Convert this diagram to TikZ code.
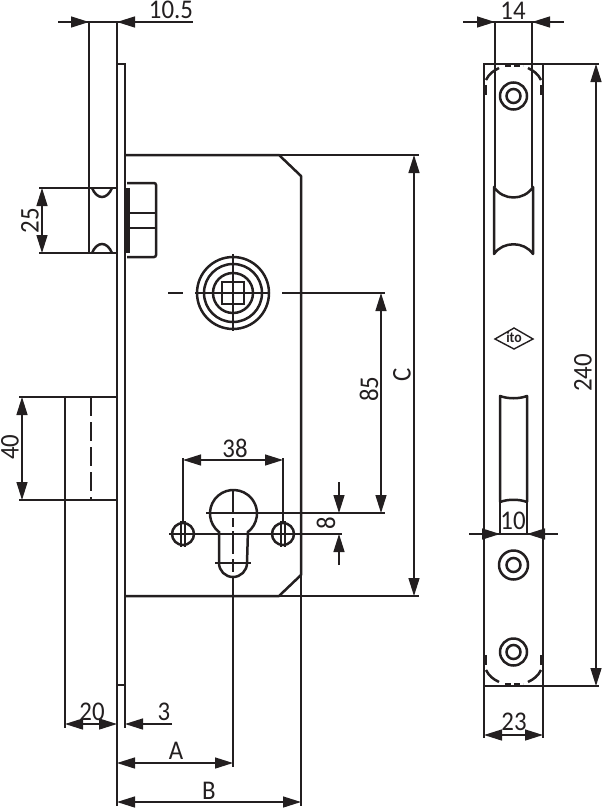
\documentclass[tikz,border=0pt]{standalone}
\usepackage{fontspec}
\setmainfont{Carlito}[FakeStretch=0.92]
\usetikzlibrary{arrows.meta}
\definecolor{myInk}{RGB}{35,31,32}

\begin{document}
\begin{tikzpicture}[%
    x=1pt,y=-1pt,
    every node/.style={text=myInk},
    bold/.style={myInk,line width=2.5pt},
    fine/.style={myInk,line width=1.4pt},
    both/.style={fine,{Triangle[length=18pt,width=11pt]}-{Triangle[length=18pt,width=11pt]}},
    tipin/.style={fine,-{Triangle[length=18pt,width=11pt]}},
    dimlabel/.style={font=\fontsize{27}{27}\selectfont,inner sep=0pt},
]
\useasboundingbox (0,0) rectangle (602,808);

% faceplate and case, side view
\draw[bold] (117,685) -- (117,64) -- (125,64) -- (125,685) -- cycle;
\draw[bold,line join=round] (125,155) -- (279,155) -- (301,176) -- (301,575) -- (279,596) -- (125,596);
\draw[fine] (117,22) -- (117,64);
\draw[fine] (117,685) -- (117,806);
\draw[fine] (125,685) -- (125,728);
\draw[fine] (301,575) -- (301,806);

% latch
\draw[bold] (89,22) -- (89,253);
\draw[bold] (89,188) -- (117,188);
\draw[bold] (89,253) -- (117,253);
\draw[bold] (92,188) .. controls (97,200) and (107,200) .. (112,188);
\draw[bold] (92,253) .. controls (97,241) and (107,241) .. (112,253);
\draw[bold,rounded corners=2pt] (127,183) -- (156,183) -- (156,257) -- (127,257);
\draw[fine,line width=1.8pt] (127,213) -- (156,213);
\draw[fine,line width=1.8pt] (127,228) -- (156,228);
\draw[line width=3.2pt,myInk] (128,188) -- (128,253);

% bolt
\draw[bold] (117,397) -- (65,397) -- (65,500) -- (117,500);
\draw[bold,dash pattern=on 19pt off 6pt] (91,397) -- (91,500);
\draw[fine] (65,500) -- (65,728);

% follower
\foreach \r in {36,29,20}{
    \draw[bold] (233,293) circle (\r);
}
\draw[bold] (222,282) rectangle (244,304);
\draw[fine] (233,254) -- (233,331);
\draw[fine] (195,293) -- (270,293);
\draw[fine,line width=1.8pt] (168,293) -- (183,293);
\draw[fine] (282,293) -- (385,293);

% cylinder hole
\draw[bold] (219,532) arc[start angle=128,end angle=412,radius=23.5] -- (247,563)
    arc[start angle=0,end angle=180,radius=14] -- cycle;
\draw[fine] (215,563) -- (251,563);
\draw[fine] (206,513) -- (385,513);
\draw[fine] (169,534) -- (342,534);
\draw[fine] (233,490) -- (233,513);
\draw[fine,line width=1.8pt] (233,518) -- (233,527);
\draw[fine,line width=1.8pt] (233,531) -- (233,554);
\draw[fine,line width=1.8pt] (233,559) -- (233,572);
\draw[fine] (233,577) -- (233,767);

% screw holes
\foreach \x in {183,283}{
    \draw[bold] (\x,534) circle (11);
    \draw[fine] (\x-2,521) -- (\x-2,547);
    \draw[fine] (\x+2,521) -- (\x+2,547);
}

% extension lines of the side view
\draw[fine] (279,155) -- (419,155);
\draw[fine] (279,596) -- (419,596);
\draw[fine] (39,188) -- (89,188);
\draw[fine] (39,253) -- (89,253);
\draw[fine] (19,397) -- (65,397);
\draw[fine] (19,500) -- (65,500);
\draw[fine] (183,458) -- (183,523);
\draw[fine] (283,458) -- (283,523);

% dimensions of the side view
\draw[fine] (58,22) -- (193,22);
\draw[tipin] (72,22) -- (89,22);
\draw[tipin] (134,22) -- (117,22);
\node[dimlabel] (lblTenFive) at (171,10) {10.5};
\draw[both] (42,188) -- (42,253);
\node[dimlabel,rotate=90] (lblLatch) at (30,221) {25};
\draw[both] (22,397) -- (22,500);
\node[dimlabel,rotate=90] (lblBolt) at (10,447) {40};
\draw[both] (183,460) -- (283,460);
\node[dimlabel] (lblHoles) at (235,448) {38};
\draw[both] (414,155) -- (414,596);
\node[dimlabel,rotate=90] (lblC) at (402,375) {C};
\draw[both] (381,293) -- (381,513);
\node[dimlabel,rotate=90] (lblCentres) at (369,389) {85};
\draw[tipin] (339,482) -- (339,513);
\draw[tipin] (339,565) -- (339,534);
\node[dimlabel,rotate=90] (lblOffset) at (326,523) {8};
\draw[both] (65,724) -- (117,724);
\node[dimlabel] (lblTwenty) at (92,712) {20};
\draw[tipin] (172,724) -- (125,724);
\node[dimlabel] (lblThree) at (164,712) {3};
\draw[both] (117,763) -- (233,763);
\node[dimlabel] (lblA) at (176,751) {A};
\draw[both] (117,802) -- (301,802);
\node[dimlabel] (lblB) at (209,791) {B};

% faceplate, front view
\draw[bold] (484,64) rectangle (543,686);
\draw[bold] (484,64) -- (543,64);
\draw[bold] (484,686) -- (543,686);
\foreach \y/\s in {64/1,686/-1}{
    \draw[bold] (486,\y+\s*16) .. controls (489,\y+\s*10) and (493,\y+\s*7) .. (499,\y+\s*4);
    \draw[bold] (541,\y+\s*16) .. controls (538,\y+\s*10) and (534,\y+\s*7) .. (528,\y+\s*4);
    \draw[fine,dash pattern=on 6pt off 3pt] (505,\y+\s*2) -- (523,\y+\s*2);
    \draw[line width=3.2pt,myInk] (485,\y+\s*21) -- (485,\y+\s*31);
    \draw[line width=3.2pt,myInk] (542,\y+\s*21) -- (542,\y+\s*31);
}

% latch recess
\draw[fine] (495,22) -- (495,187);
\draw[fine] (532,22) -- (532,187);
\draw[bold,line join=round] (494,187) .. controls (503,201) and (524,201) .. (533,187) -- (533,254)
    .. controls (524,241) and (503,241) .. (494,254) -- cycle;

% screws
\foreach \y/\r in {96/13.5,565/14.5,652/13.5}{
    \draw[bold] (513.5,\y) circle (\r);
    \draw[bold] (513.5,\y) circle (7);
}

% logo
\draw[fine] (495,339) -- (514,328) -- (533,339) -- (514,349) -- cycle;
\node[font=\bfseries\fontsize{15}{15}\selectfont,inner sep=0pt] (lblLogo) at (514,337.5) {ito};

% bolt recess
\draw[bold,line join=round] (500,502) -- (500,396) .. controls (508,399) and (519,399) .. (527,396) -- (527,502);
\draw[bold] (500,502) .. controls (508,499) and (519,499) .. (527,502);
\draw[fine] (500,502) -- (500,534);
\draw[fine] (527,502) -- (527,534);

% dimensions of the front view
\draw[fine] (463,22) -- (564,22);
\draw[tipin] (478,22) -- (495,22);
\draw[tipin] (549,22) -- (532,22);
\node[dimlabel] (lblFourteen) at (513,11) {14};
\draw[fine] (543,64) -- (599,64);
\draw[fine] (543,686) -- (599,686);
\draw[both] (596,64) -- (596,686);
\node[dimlabel,rotate=90] (lblHeight) at (583,373) {240};
\draw[fine] (469,534) -- (558,534);
\draw[tipin] (483,534) -- (500,534);
\draw[tipin] (544,534) -- (527,534);
\node[dimlabel] (lblTen) at (513,521) {10};
\draw[fine] (484,686) -- (484,738);
\draw[fine] (543,686) -- (543,738);
\draw[both] (484,735) -- (543,735);
\node[dimlabel] (lblWidth) at (514,722) {23};
\end{tikzpicture}
\end{document}
